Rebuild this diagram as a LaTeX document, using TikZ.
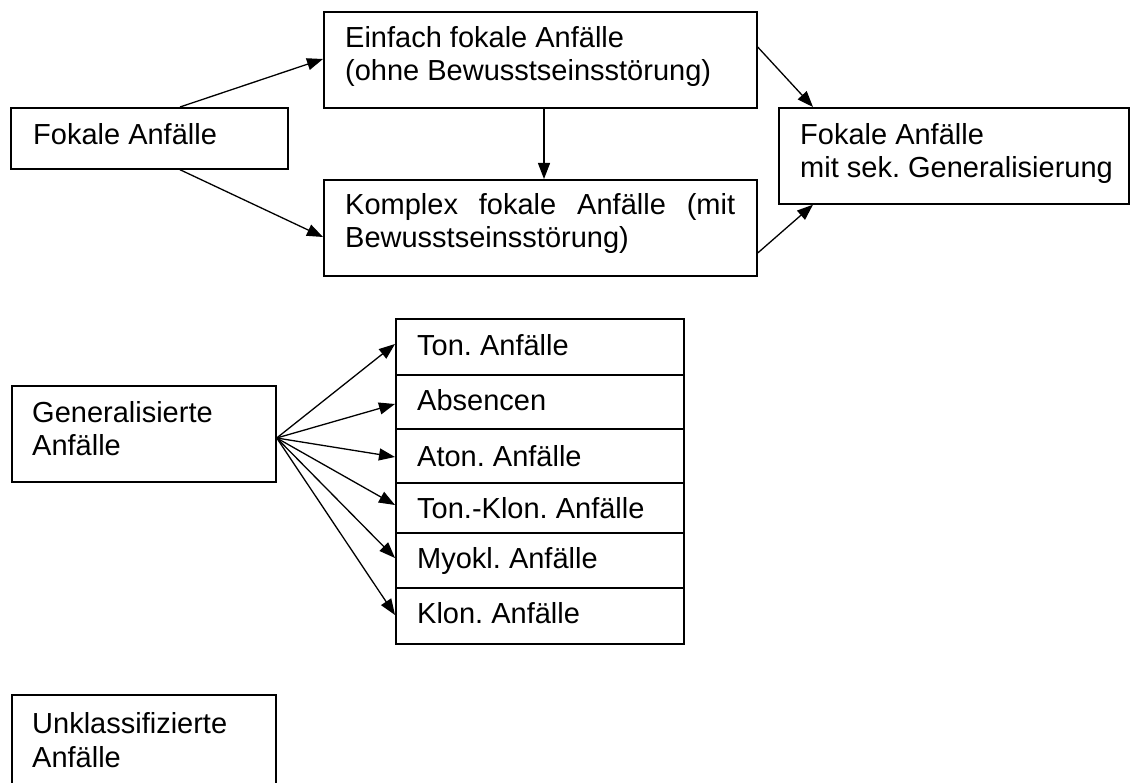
\documentclass[tikz,border=0pt]{standalone}
\usepackage{fontspec}
\setmainfont{Liberation Sans}
\usetikzlibrary{arrows.meta}
\frenchspacing
\begin{document}
\begin{tikzpicture}[x=1pt,y=-1pt,
  box/.style={draw, line width=1.7pt, rectangle, inner sep=0pt, anchor=north west},
  lbl/.style={anchor=base west, inner sep=0pt, font=\fontsize{29}{33}\selectfont},
  arr/.style={line width=1.3pt, -{Triangle[length=16pt,width=12pt]}}]
\useasboundingbox (0,0) rectangle (1130,783);
% boxes
\node[box, minimum width=277pt, minimum height=61pt] (fok) at (10,107) {};
\node[box, minimum width=433pt, minimum height=96pt] (ein) at (323,11) {};
\node[box, minimum width=433pt, minimum height=96pt] (kom) at (323,179) {};
\node[box, minimum width=350pt, minimum height=96pt] (sek) at (778,107) {};
\node[box, minimum width=264pt, minimum height=96pt] (gen) at (11,385) {};
\node[box, minimum width=288pt, minimum height=56pt] (s1) at (395,318) {};
\node[box, minimum width=288pt, minimum height=54pt] (s2) at (395,374) {};
\node[box, minimum width=288pt, minimum height=54pt] (s3) at (395,428) {};
\node[box, minimum width=288pt, minimum height=50pt] (s4) at (395,482) {};
\node[box, minimum width=288pt, minimum height=55pt] (s5) at (395,532) {};
\node[box, minimum width=288pt, minimum height=56pt] (s6) at (395,587) {};
\node[box, minimum width=264pt, minimum height=120pt] (unk) at (11,694) {};
% texts
\node[lbl] (tfok) at (33,145) {Fokale Anfälle};
\node[lbl] (tein1) at (345,48) {Einfach fokale Anfälle};
\node[lbl] (tein2) at (345,81) {(ohne Bewusstseinsstörung)};
\node[lbl] (tkom1) at (345,215) {\makebox[390pt][s]{Komplex fokale Anfälle (mit}};
\node[lbl] (tkom2) at (345,248) {Bewusstseinsstörung)};
\node[lbl] (tsek1) at (800,145) {Fokale Anfälle};
\node[lbl] (tsek2) at (800,178) {mit sek. Generalisierung};
\node[lbl] (tgen1) at (32,423) {Generalisierte};
\node[lbl] (tgen2) at (32,456) {Anfälle};
\node[lbl] (ts1) at (417,356) {Ton. Anfälle};
\node[lbl] (ts2) at (417,411) {Absencen};
\node[lbl] (ts3) at (417,466) {Aton. Anfälle};
\node[lbl] (ts4) at (417,518) {Ton.-Klon. Anfälle};
\node[lbl] (ts5) at (417,568) {Myokl. Anfälle};
\node[lbl] (ts6) at (417,623) {Klon. Anfälle};
\node[lbl] (tunk1) at (32,733) {Unklassifizierte};
\node[lbl] (tunk2) at (32,767) {Anfälle};
% connector end points
\coordinate (fokT) at ([xshift=170pt]fok.north west);
\coordinate (fokB) at ([xshift=170pt]fok.south west);
\coordinate (einB) at ([xshift=221pt]ein.south west);
\coordinate (genR) at (gen.east |- 0,438);
% connectors
\draw[arr] (fokT) -- (ein.west |- 0,59);
\draw[arr] (fokB) -- (kom.west |- 0,237);
\draw[arr] (einB) -- (einB |- kom.north);
\draw[arr] (ein.east |- 0,47) -- ([xshift=35pt]sek.north west);
\draw[arr] ([yshift=-2pt]kom.east |- 0,251) -- ([xshift=35pt]sek.south west);
\draw[arr] (genR) -- (s1.west |- 0,344);
\draw[arr] (genR) -- (s2.west |- 0,404);
\draw[arr] (genR) -- (s3.west |- 0,457);
\draw[arr] (genR) -- (s4.west |- 0,505);
\draw[arr] (genR) -- (s5.west |- 0,558);
\draw[arr] (genR) -- (s6.west |- 0,615);
\end{tikzpicture}
\end{document}
